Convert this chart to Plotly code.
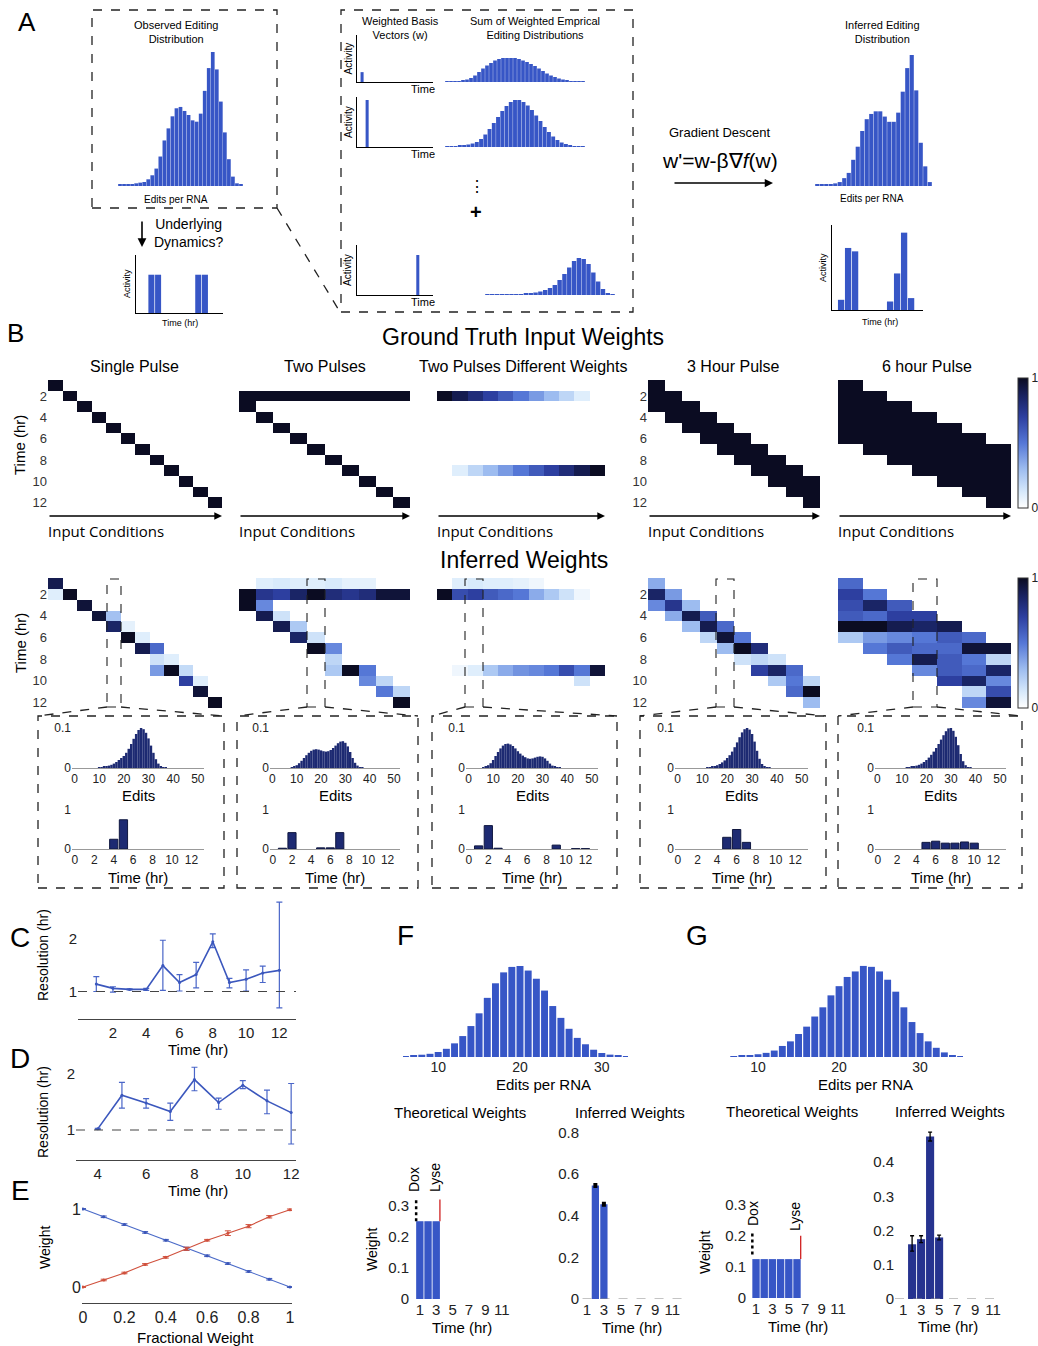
import plotly.graph_objects as go

W, H = 1038, 1346
FONT = "Liberation Sans, Arial, sans-serif"
FONT_IC = "Open Sans, Liberation Sans, sans-serif"
BLUE = "#3756c6"
NAVY = "#1d2a72"
LINE_BLUE = "#3b57bd"
RED = "#d0503c"

CS = [[0.0, "#ffffff"], [0.12, "#d8eafb"], [0.3, "#9dbcf0"], [0.5, "#5577d6"],
      [0.7, "#2d3fa0"], [0.87, "#18215e"], [1.0, "#0b0c22"]]

# ======================= DATA =======================
# Panel A
obs_dist = [0.01, 0.01, 0.01, 0.015, 0.02, 0.025, 0.03, 0.05, 0.08, 0.13, 0.22, 0.34, 0.43, 0.52,
            0.58, 0.59, 0.56, 0.53, 0.49, 0.48, 0.54, 0.71, 0.88, 1.0, 0.87, 0.63, 0.40, 0.20,
            0.07, 0.02, 0.01]
inf_dist = [0.01, 0.01, 0.01, 0.015, 0.02, 0.03, 0.06, 0.1, 0.2, 0.3, 0.42, 0.51, 0.55, 0.57,
            0.57, 0.53, 0.49, 0.49, 0.56, 0.72, 0.9, 1.0, 0.73, 0.33, 0.15, 0.03]
sum_dist_1 = [0.01, 0.01, 0.015, 0.02, 0.03, 0.05, 0.08, 0.13, 0.2, 0.27, 0.33, 0.38, 0.43, 0.46,
              0.48, 0.48, 0.48, 0.48, 0.46, 0.43, 0.4, 0.36, 0.32, 0.27, 0.22, 0.17, 0.13, 0.1,
              0.07, 0.05, 0.03, 0.02, 0.015, 0.01, 0.005]
sum_dist_2 = [0.01, 0.01, 0.02, 0.03, 0.04, 0.05, 0.07, 0.1, 0.16, 0.25, 0.36, 0.48, 0.6, 0.72,
              0.82, 0.9, 0.94, 0.94, 0.9, 0.83, 0.74, 0.63, 0.52, 0.4, 0.3, 0.21, 0.14, 0.09,
              0.06, 0.04, 0.02, 0.01, 0.005]
sum_dist_3 = [0.005, 0.005, 0.01, 0.01, 0.01, 0.015, 0.02, 0.02, 0.03, 0.04, 0.05, 0.07, 0.1,
              0.14, 0.2, 0.3, 0.42, 0.55, 0.68, 0.74, 0.72, 0.62, 0.45, 0.27, 0.12, 0.04, 0.01]
basis_times = [1, 2, 12]
basis_weights = [0.21, 0.94, 0.8]
underlying_times = [2, 3, 9, 10]
underlying_activity = [0.66, 0.66, 0.66, 0.66]
inferred_times = [1, 2, 3, 8, 9, 10, 11]
inferred_activity = [0.12, 0.73, 0.69, 0.1, 0.43, 0.91, 0.14]

# Panel B - ground truth
gt_single_starts = [1, 2, 3, 4, 5, 6, 7, 8, 9, 10, 11, 12]
gt_two_first = 2
gt_two_second_starts = [3, 4, 5, 6, 7, 8, 9, 10, 11, 12]
gt_diff_rows = {2: [1.0, 0.9, 0.8, 0.7, 0.6, 0.5, 0.4, 0.3, 0.2, 0.1, 0.0],
                9: [0.0, 0.1, 0.2, 0.3, 0.4, 0.5, 0.6, 0.7, 0.8, 0.9, 1.0]}
gt_3h_starts = [1, 2, 3, 4, 5, 6, 7, 8, 9, 10]
gt_6h_starts = [1, 2, 3, 4, 5, 6, 7]

# Panel B - inferred (column-wise {time_row: weight})
inf_single = [{1: .9, 2: .1}, {2: 1.0}, {3: .95}, {4: .95}, {4: .28, 5: .85}, {5: .08, 6: 1.0},
              {6: .1, 7: .9}, {7: .55, 8: .15, 9: .4}, {8: .1, 9: 1.0}, {9: .18, 10: .7},
              {10: .1, 11: .95}, {12: 1.0}]
inf_two = [{2: 1.0, 3: 1.0}, {1: .1, 2: .75, 3: .45, 4: .9}, {1: .12, 2: .7, 4: .15, 5: .9},
           {1: .1, 2: .85, 5: .25, 6: .85}, {1: .1, 2: 1.0, 6: .15, 7: 1.0},
           {1: .12, 2: .8, 7: .45, 8: .2, 9: .25}, {1: .08, 2: .75, 9: 1.0},
           {1: .08, 2: .8, 9: .5, 10: .45}, {2: .95, 10: .2, 11: .5}, {2: .95, 11: .2, 12: 1.0}]
inf_diff_rows = {1: [0.0, 0.1, 0.12, 0.1, 0.1, 0.08, 0.05, 0.0, 0.0, 0.0, 0.0],
                 2: [1.0, 0.65, 0.7, 0.6, 0.55, 0.5, 0.35, 0.25, 0.15, 0.05, 0.0],
                 9: [0.0, 0.05, 0.1, 0.25, 0.35, 0.42, 0.45, 0.5, 0.65, 0.5, 0.95],
                 10: [0.0, 0.0, 0.0, 0.0, 0.0, 0.0, 0.0, 0.0, 0.0, 0.15, 0.0]}
inf_3h = [{1: .35, 2: .85, 3: .45}, {2: .4, 3: .75, 4: .35}, {3: .3, 4: .9, 5: .3},
          {4: .6, 5: .9, 6: .2}, {5: .55, 6: .95, 7: .3}, {6: .5, 7: 1.0, 8: .15},
          {7: .8, 8: .2, 9: .7}, {8: .15, 9: .85, 10: .25}, {9: .55, 10: .5, 11: .55},
          {10: .2, 11: 1.0, 12: .3}]
inf_6h = [{1: .55, 2: .7, 3: .65, 4: .6, 5: 1.0, 6: .25},
          {2: .5, 3: .85, 4: .55, 5: 1.0, 6: .4, 7: .5},
          {3: .6, 4: .7, 5: .9, 6: .45, 7: .6, 8: .5},
          {4: .7, 5: .85, 6: .5, 7: .55, 8: .9, 9: .45},
          {5: .9, 6: .6, 7: .55, 8: .6, 9: .6, 10: .7},
          {6: .55, 7: .95, 8: .5, 9: .55, 10: .85, 11: .2, 12: .45},
          {7: .95, 8: .2, 9: .85, 10: .45, 11: .65, 12: .95}]

# Insets: edit distributions (start edit, values) and time weights
inset_edit_start = [10, 8, 6, 12, 12]
inset_edit_vals = [
    [.001, .002, .003, .004, .006, .008, .011, .015, .02, .025, .03, .038, .048, .06, .073, .085,
     .095, .1, .097, .088, .074, .056, .038, .022, .011, .005, .002, .001],
    [.002, .004, .007, .012, .018, .025, .032, .038, .043, .046, .047, .046, .044, .042, .041,
     .042, .045, .05, .056, .062, .066, .067, .063, .054, .04, .025, .013, .006, .002, .001],
    [.002, .004, .007, .012, .02, .03, .04, .049, .056, .06, .061, .059, .055, .049, .042, .036,
     .031, .027, .024, .023, .024, .026, .028, .029, .028, .024, .018, .011, .006, .003, .001, .0005],
    [.001, .002, .003, .005, .007, .01, .014, .019, .025, .032, .041, .052, .064, .077, .089, .097,
     .1, .096, .085, .066, .043, .023, .01, .004, .001, .0005],
    [.001, .002, .003, .004, .006, .008, .011, .015, .02, .026, .033, .041, .05, .06, .071, .082,
     .092, .099, .1, .093, .078, .057, .035, .017, .007, .002, .001],
]
inset_time_weights = [
    {4: .25, 5: .75},
    {1: .02, 2: .42, 5: .03, 6: .03, 7: .42},
    {1: .08, 2: .6, 3: .02, 9: .1, 11: .01, 12: .01},
    {5: .3, 6: .5, 7: .17},
    {5: .17, 6: .2, 7: .15, 8: .15, 9: .18, 10: .15},
]

# Panel C
c_time = [1, 2, 3, 4, 5, 6, 7, 8, 9, 10, 11, 12]
c_res = [1.14, 1.06, 1.04, 1.04, 1.49, 1.17, 1.32, 1.94, 1.17, 1.23, 1.35, 1.40]
c_hi = [1.28, 1.09, 1.05, 1.06, 1.97, 1.32, 1.55, 2.09, 1.25, 1.41, 1.48, 2.69]
c_lo = [1.00, 0.99, 1.03, 1.02, 1.02, 1.01, 1.07, 1.83, 1.07, 1.01, 1.17, 0.69]
# Panel D
d_time = [4, 5, 6, 7, 8, 9, 10, 11, 12]
d_res = [1.02, 1.62, 1.48, 1.33, 1.90, 1.49, 1.80, 1.52, 1.31]
d_hi = [1.03, 1.85, 1.56, 1.48, 2.12, 1.57, 1.88, 1.71, 1.83]
d_lo = [1.01, 1.39, 1.39, 1.17, 1.70, 1.37, 1.74, 1.29, 0.75]
# Panel E
e_frac = [0.0, 0.1, 0.2, 0.3, 0.4, 0.5, 0.6, 0.7, 0.8, 0.9, 1.0]
e_blue = [1.0, 0.9, 0.8, 0.7, 0.6, 0.49, 0.4, 0.3, 0.2, 0.1, 0.0]
e_blue_err = [0.005, 0.01, 0.01, 0.01, 0.01, 0.02, 0.01, 0.01, 0.01, 0.01, 0.005]
e_red = [0.0, 0.09, 0.18, 0.29, 0.38, 0.49, 0.6, 0.69, 0.78, 0.9, 0.99]
e_red_err = [0.005, 0.01, 0.01, 0.01, 0.01, 0.02, 0.01, 0.03, 0.02, 0.015, 0.01]
# Panel F
f_edits = list(range(6, 34))
f_dist = [.01, .02, .025, .035, .055, .09, .15, .23, .34, .48, .65, .81, .93, .99, 1.0, .95, .86,
          .73, .56, .43, .31, .21, .14, .08, .044, .026, .015, .007]
f_theo_t = [1, 2, 3]
f_theo_w = [0.25, 0.25, 0.25]
f_inf_t = [2, 3]
f_inf_w = [0.545, 0.455]
f_inf_err = [0.006, 0.006]
# Panel G
g_edits = list(range(7, 36))
g_dist = [.01, .015, .02, .03, .045, .07, .12, .17, .25, .33, .44, .54, .67, .77, .87, .93, .99,
          .98, .93, .84, .71, .54, .38, .26, .17, .10, .05, .015, .008]
g_theo_t = [1, 2, 3, 4, 5, 6]
g_theo_w = [0.125, 0.125, 0.125, 0.125, 0.125, 0.125]
g_inf_t = [2, 3, 4, 5]
g_inf_w = [0.16, 0.175, 0.475, 0.18]
g_inf_err_hi = [0.025, 0.01, 0.013, 0.007]
g_inf_err_lo = [0.02, 0.01, 0.013, 0.007]

# ======================= HELPERS =======================
fig = go.Figure()
lay = {}
ann = []
shp = []
n_ax = [0]


def axes(x0, y0, x1, y1, xkw=None, ykw=None):
    n_ax[0] += 1
    n = n_ax[0]
    s = "" if n == 1 else str(n)
    base = dict(showgrid=False, zeroline=False, showticklabels=False, ticks="", showline=False,
                fixedrange=True, automargin=False, tickfont=dict(family=FONT, color="#222"))
    xa = dict(base, domain=[x0 / W, x1 / W], anchor="y" + s)
    ya = dict(base, domain=[1 - y1 / H, 1 - y0 / H], anchor="x" + s)
    if xkw:
        xa.update(xkw)
    if ykw:
        ya.update(ykw)
    lay["xaxis" + s] = xa
    lay["yaxis" + s] = ya
    return "x" + s, "y" + s


def T(x, y, text, size=12, xa="center", ya="middle", angle=0, color="black", family=FONT):
    ann.append(dict(x=x / W, y=1 - y / H, xref="paper", yref="paper", text=text, showarrow=False,
                    font=dict(size=size, color=color, family=family), xanchor=xa, yanchor=ya,
                    textangle=angle))


def ARROW(x0, y0, x1, y1, width=1.5, head=2, size=1.0):
    ann.append(dict(x=x1 / W, y=1 - y1 / H, xref="paper", yref="paper", ax=x0 - x1, ay=y0 - y1,
                    axref="pixel", ayref="pixel", text="", showarrow=True, arrowhead=head,
                    arrowwidth=width, arrowsize=size, arrowcolor="black"))


def RECT(x0, y0, x1, y1, dash="dash", width=1.3, color="#222"):
    shp.append(dict(type="rect", xref="paper", yref="paper", x0=x0 / W, x1=x1 / W,
                    y0=1 - y1 / H, y1=1 - y0 / H, line=dict(color=color, width=width, dash=dash),
                    fillcolor="rgba(0,0,0,0)", layer="above"))


def LINE(x0, y0, x1, y1, dash="dash", width=1.3, color="#222"):
    shp.append(dict(type="line", xref="paper", yref="paper", x0=x0 / W, x1=x1 / W,
                    y0=1 - y0 / H, y1=1 - y1 / H, line=dict(color=color, width=width, dash=dash)))


def DLINE(xa, ya, x0, y0, x1, y1, dash="solid", width=1.3, color="#222"):
    shp.append(dict(type="line", xref=xa, yref=ya, x0=x0, x1=x1, y0=y0, y1=y1,
                    line=dict(color=color, width=width, dash=dash)))


def BAR(xa, ya, x, y, color, width=0.9, err=None, errminus=None, errcolor="black", ethick=1.2):
    kw = {}
    if err is not None:
        kw["error_y"] = dict(type="data", symmetric=False, array=err,
                             arrayminus=errminus if errminus is not None else err,
                             color=errcolor, thickness=ethick, width=2)
    fig.add_trace(go.Bar(x=x, y=y, width=width, marker=dict(color=color, line=dict(width=0)),
                         xaxis=xa, yaxis=ya, showlegend=False, hoverinfo="skip", **kw))


def pulse_matrix(starts, dur):
    z = [[0.0] * len(starts) for _ in range(12)]
    for c, s in enumerate(starts):
        for r in range(s, s + dur):
            z[r - 1][c] = 1.0
    return z


def sparse_matrix(cols):
    z = [[0.0] * len(cols) for _ in range(12)]
    for c, d in enumerate(cols):
        for r, v in d.items():
            z[r - 1][c] = v
    return z


def row_matrix(rows, ncol):
    z = [[0.0] * ncol for _ in range(12)]
    for r, vals in rows.items():
        for c, v in enumerate(vals):
            z[r - 1][c] = v
    return z


def HEAT(x0, y0, x1, y1, z, cax, ticks):
    ncol = len(z[0])
    ykw = dict(range=[12.5, 0.5])
    if ticks:
        ykw.update(showticklabels=True, tickvals=[2, 4, 6, 8, 10, 12],
                   tickfont=dict(size=13, color="#333", family=FONT))
    xa, ya = axes(x0, y0, x1, y1, xkw=dict(range=[0.5, ncol + 0.5]), ykw=ykw)
    fig.add_trace(go.Heatmap(z=z, x=list(range(1, ncol + 1)), y=list(range(1, 13)),
                             coloraxis=cax, xaxis=xa, yaxis=ya, hoverinfo="skip"))
    return xa, ya


# ======================= PANEL A =======================
T(27, 22, "A", size=26)
RECT(92, 10, 277, 208)
T(176, 32, "Observed Editing<br>Distribution", size=11)
xa, ya = axes(118, 52, 243, 186, xkw=dict(range=[-0.5, len(obs_dist) - 0.5]), ykw=dict(range=[0, 1]))
BAR(xa, ya, list(range(len(obs_dist))), obs_dist, BLUE, width=0.92)
T(176, 199, "Edits per RNA", size=10)
ARROW(142, 220, 142, 247, width=1.6, head=2, size=1.1)
T(152, 233, "Underlying<br>Dynamics?", size=14, xa="left")
line_ax = dict(showline=True, linecolor="black", linewidth=1)
xa, ya = axes(136, 255, 223, 313, xkw=dict(range=[-0.3, 12.7], **line_ax), ykw=dict(range=[0, 1], **line_ax))
BAR(xa, ya, underlying_times, underlying_activity, BLUE, width=0.9)
T(127, 284, "Activity", size=9, angle=-90)
T(180, 323, "Time (hr)", size=9)
LINE(277, 208, 340, 312)

RECT(341, 10, 633, 312)
T(400, 28, "Weighted Basis<br>Vectors (w)", size=11)
T(535, 28, "Sum of Weighted Emprical<br>Editing Distributions", size=11)
rows_a = [(35, 82), (97, 147), (245, 295)]
dists = [sum_dist_1, sum_dist_2, sum_dist_3]
dist_x = [(445, 585), (445, 585), (485, 615)]
for i in range(3):
    top, base = rows_a[i]
    xa, ya = axes(357, top, 433, base, xkw=dict(range=[0, 15], **line_ax), ykw=dict(range=[0, 1], **line_ax))
    BAR(xa, ya, [basis_times[i]], [basis_weights[i]], BLUE, width=0.6)
    T(348, (top + base) / 2, "Activity", size=10, angle=-90)
    T(423, base + 7, "Time", size=11)
    d = dists[i]
    xa, ya = axes(dist_x[i][0], base - 50, dist_x[i][1], base,
                  xkw=dict(range=[-0.5, len(d) - 0.5]), ykw=dict(range=[0, 1]))
    BAR(xa, ya, list(range(len(d))), d, BLUE, width=0.92)
T(477, 187, "⋮", size=16)
T(476, 212, "<b>+</b>", size=20)

T(720, 133, "Gradient Descent", size=13)
T(720, 160, "w'=w-β∇<i>f</i>(w)", size=21)
ARROW(673, 183, 773, 183, width=1.5, head=2, size=1.1)
T(882, 32, "Inferred Editing<br>Distribution", size=11)
xa, ya = axes(815, 55, 932, 186, xkw=dict(range=[-0.5, len(inf_dist) - 0.5]), ykw=dict(range=[0, 1]))
BAR(xa, ya, list(range(len(inf_dist))), inf_dist, BLUE, width=0.92)
T(872, 198, "Edits per RNA", size=10)
xa, ya = axes(832, 225, 923, 310, xkw=dict(range=[-0.3, 12.7], **line_ax), ykw=dict(range=[0, 1], **line_ax))
BAR(xa, ya, inferred_times, inferred_activity, BLUE, width=0.9)
T(823, 268, "Activity", size=9, angle=-90)
T(880, 322, "Time (hr)", size=9)

# ======================= PANEL B =======================
T(15, 333, "B", size=26)
T(523, 337, "Ground Truth Input Weights", size=23)
subtitles = ["Single Pulse", "Two Pulses", "Two Pulses Different Weights", "3 Hour Pulse", "6 hour Pulse"]
sub_x = [134, 325, 523, 733, 927]
for t, x in zip(subtitles, sub_x):
    T(x, 367, t, size=16)

hm_x = [(48, 222), (239, 410), (437, 605), (648, 820), (838, 1011)]
z_two = pulse_matrix(gt_two_second_starts, 1)
for c in range(len(gt_two_second_starts)):
    z_two[gt_two_first - 1][c] = 1.0
gt_mats = [pulse_matrix(gt_single_starts, 1), z_two, row_matrix(gt_diff_rows, 11),
           pulse_matrix(gt_3h_starts, 3), pulse_matrix(gt_6h_starts, 6)]
for i in range(5):
    HEAT(hm_x[i][0], 380, hm_x[i][1], 508, gt_mats[i], "coloraxis", i in (0, 3))
    ARROW(hm_x[i][0], 516, hm_x[i][1], 516, width=1.4, head=2, size=1.1)
    T(hm_x[i][0] - 2, 531, "Input Conditions", size=15, xa="left", family=FONT_IC)
T(20, 445, "Time (hr)", size=15, angle=-90)

T(524, 560, "Inferred Weights", size=23)
inf_mats = [sparse_matrix(inf_single), sparse_matrix(inf_two), row_matrix(inf_diff_rows, 11),
            sparse_matrix(inf_3h), sparse_matrix(inf_6h)]
for i in range(5):
    HEAT(hm_x[i][0], 578, hm_x[i][1], 708, inf_mats[i], "coloraxis2", i in (0, 3))
T(20, 643, "Time (hr)", size=15, angle=-90)

sel = [(107, 121), (307, 325), (465, 483), (716, 734), (913, 937)]
boxes = [(38, 224), (237, 418), (432, 617), (640, 826), (838, 1022)]
inset_ax = [(72, 204), (270, 400), (466, 598), (675, 808), (875, 1006)]
for i in range(5):
    RECT(sel[i][0], 579, sel[i][1], 707, dash="dash", width=1.1)
    RECT(boxes[i][0], 716, boxes[i][1], 888, dash="dash", width=1.3)
    LINE(sel[i][0], 707, boxes[i][0], 716, width=1.3)
    LINE(sel[i][1], 707, boxes[i][1], 716, width=1.3)
    a0, a1 = inset_ax[i]
    xa, ya = axes(a0, 728, a1, 768,
                  xkw=dict(range=[-1, 52.5], showline=True, linecolor="#999", linewidth=1,
                           showticklabels=True, tickvals=[0, 10, 20, 30, 40, 50], tickfont=dict(size=12, color="#222", family=FONT)),
                  ykw=dict(range=[0, 0.1], showticklabels=True, tickvals=[0, 0.1], ticktext=["0", "0.1"],
                           tickfont=dict(size=12, color="#222", family=FONT)))
    vals = inset_edit_vals[i]
    BAR(xa, ya, list(range(inset_edit_start[i], inset_edit_start[i] + len(vals))), vals, NAVY, width=1.0)
    T((a0 + a1) / 2, 795, "Edits", size=15)
    tw = inset_time_weights[i]
    xa, ya = axes(a0, 810, a1, 849,
                  xkw=dict(range=[-0.3, 13.3], showline=True, linecolor="#999", linewidth=1,
                           showticklabels=True, tickvals=[0, 2, 4, 6, 8, 10, 12], tickfont=dict(size=12, color="#222", family=FONT)),
                  ykw=dict(range=[0, 1], showticklabels=True, tickvals=[0, 1],
                           tickfont=dict(size=12, color="#222", family=FONT)))
    fig.add_trace(go.Bar(x=list(tw.keys()), y=list(tw.values()), width=0.85,
                         marker=dict(color=NAVY, line=dict(color="#101840", width=1)),
                         xaxis=xa, yaxis=ya, showlegend=False, hoverinfo="skip"))
    T((a0 + a1) / 2, 877, "Time (hr)", size=15)

cbar = dict(thickness=10, xanchor="left", yanchor="bottom", lenmode="fraction", xpad=0, ypad=0,
            tickvals=[0, 1], ticktext=["0", "1"], ticks="", outlinewidth=1, outlinecolor="#333",
            tickfont=dict(size=12, family=FONT, color="#222"))
lay["coloraxis"] = dict(colorscale=CS, cmin=0, cmax=1,
                        colorbar=dict(cbar, x=1018 / W, y=1 - 508 / H, len=130 / H))
lay["coloraxis2"] = dict(colorscale=CS, cmin=0, cmax=1,
                         colorbar=dict(cbar, x=1018 / W, y=1 - 708 / H, len=130 / H))

# ======================= PANELS C, D, E =======================
tf17 = dict(size=15, color="#222", family=FONT)
bline = dict(showline=True, linecolor="#444", linewidth=1)

T(20, 937, "C", size=28)
xa, ya = axes(78, 899, 296, 1019,
              xkw=dict(range=[-0.1, 13], showticklabels=True, tickvals=[2, 4, 6, 8, 10, 12], tickfont=tf17, **bline),
              ykw=dict(range=[0.48, 2.75], showticklabels=True, tickvals=[1, 2], tickfont=tf17))
DLINE(xa, ya, -0.1, 1, 13, 1, dash="dash", width=1.2, color="#444")
fig.add_trace(go.Scatter(x=c_time, y=c_res, mode="lines+markers", line=dict(color=LINE_BLUE, width=1.6),
                         marker=dict(size=3, color=LINE_BLUE),
                         error_y=dict(type="data", symmetric=False,
                                      array=[h - r for h, r in zip(c_hi, c_res)],
                                      arrayminus=[r - l for r, l in zip(c_res, c_lo)],
                                      color="#4a66c8", thickness=1.2, width=3),
                         xaxis=xa, yaxis=ya, showlegend=False, hoverinfo="skip"))
T(43, 955, "Resolution (hr)", size=14, angle=-90)
T(198, 1049, "Time (hr)", size=15)

T(20, 1058, "D", size=28)
xa, ya = axes(76, 1065, 296, 1160,
              xkw=dict(range=[3.1, 12.2], showticklabels=True, tickvals=[4, 6, 8, 10, 12], tickfont=tf17, **bline),
              ykw=dict(range=[0.464, 2.16], showticklabels=True, tickvals=[1, 2], tickfont=tf17))
DLINE(xa, ya, 3.1, 1, 12.2, 1, dash="dash", width=1.2, color="#444")
fig.add_trace(go.Scatter(x=d_time, y=d_res, mode="lines+markers", line=dict(color=LINE_BLUE, width=1.6),
                         marker=dict(size=3, color=LINE_BLUE),
                         error_y=dict(type="data", symmetric=False,
                                      array=[h - r for h, r in zip(d_hi, d_res)],
                                      arrayminus=[r - l for r, l in zip(d_res, d_lo)],
                                      color="#4a66c8", thickness=1.2, width=3),
                         xaxis=xa, yaxis=ya, showlegend=False, hoverinfo="skip"))
T(43, 1112, "Resolution (hr)", size=14, angle=-90)
T(198, 1190, "Time (hr)", size=15)

T(20, 1190, "E", size=28)
xa, ya = axes(82, 1198, 292, 1303,
              xkw=dict(range=[-0.005, 1.01], showticklabels=True, tickvals=[0, 0.2, 0.4, 0.6, 0.8, 1],
                       ticktext=["0", "0.2", "0.4", "0.6", "0.8", "1"], tickfont=dict(size=16, color="#222", family=FONT), **bline),
              ykw=dict(range=[-0.205, 1.141], showticklabels=True, tickvals=[0, 1], tickfont=dict(size=16, color="#222", family=FONT)))
fig.add_trace(go.Scatter(x=e_frac, y=e_blue, mode="lines+markers", line=dict(color="#4a6ac8", width=1.1),
                         marker=dict(size=3, color="#3a55b8"),
                         error_y=dict(type="data", array=e_blue_err, color="#3a55b8", thickness=1, width=3),
                         xaxis=xa, yaxis=ya, showlegend=False, hoverinfo="skip"))
fig.add_trace(go.Scatter(x=e_frac, y=e_red, mode="lines+markers", line=dict(color=RED, width=1.1),
                         marker=dict(size=3, color=RED),
                         error_y=dict(type="data", array=e_red_err, color=RED, thickness=1, width=3),
                         xaxis=xa, yaxis=ya, showlegend=False, hoverinfo="skip"))
T(45, 1248, "Weight", size=14, angle=-90)
T(195, 1337, "Fractional Weight", size=15)

# ======================= PANELS F, G =======================
tf15 = dict(size=15, color="#222", family=FONT)
tf14 = dict(size=14, color="#222", family=FONT)

T(405, 935, "F", size=28)
xa, ya = axes(403, 966, 628, 1057,
              xkw=dict(range=[5.7, 33.2], showticklabels=True, tickvals=[10, 20, 30], tickfont=tf14),
              ykw=dict(range=[0, 1]))
BAR(xa, ya, f_edits, f_dist, BLUE, width=0.85)
T(543, 1084, "Edits per RNA", size=15)
T(460, 1112, "Theoretical Weights", size=15)
T(630, 1112, "Inferred Weights", size=15)

xa, ya = axes(410, 1159, 510, 1299,
              xkw=dict(range=[-0.2, 12], showticklabels=True, tickvals=[1, 3, 5, 7, 9, 11], tickfont=tf15),
              ykw=dict(range=[0, 0.45], showticklabels=True, tickvals=[0, 0.1, 0.2, 0.3],
                       ticktext=["0", "0.1", "0.2", "0.3"], tickfont=tf15))
BAR(xa, ya, f_theo_t, f_theo_w, BLUE, width=0.9)
DLINE(xa, ya, 0.55, 0.25, 0.55, 0.32, dash="dot", width=2.5, color="black")
DLINE(xa, ya, 3.45, 0.25, 3.45, 0.32, width=1.3, color="#d02020")
T(414, 1180, "Dox", size=14, angle=-90)
T(435, 1178, "Lyse", size=14, angle=-90)
T(372, 1250, "Weight", size=14, angle=-90)
T(462, 1327, "Time (hr)", size=15)

xa, ya = axes(580, 1122, 685, 1299,
              xkw=dict(range=[0.2, 12.5], showticklabels=True, tickvals=[1, 3, 5, 7, 9, 11], tickfont=tf15),
              ykw=dict(range=[0, 0.85], showticklabels=True, tickvals=[0, 0.2, 0.4, 0.6, 0.8],
                       ticktext=["0", "0.2", "0.4", "0.6", "0.8"], tickfont=tf15))
DLINE(xa, ya, 0.5, 0, 12.3, 0, dash="dash", width=1, color="#888")
BAR(xa, ya, f_inf_t, f_inf_w, BLUE, width=0.85, err=f_inf_err, ethick=2.5)
T(632, 1327, "Time (hr)", size=15)

T(697, 935, "G", size=28)
xa, ya = axes(730, 965, 963, 1057,
              xkw=dict(range=[6.54, 35.3], showticklabels=True, tickvals=[10, 20, 30], tickfont=tf14),
              ykw=dict(range=[0, 1]))
BAR(xa, ya, g_edits, g_dist, BLUE, width=0.85)
T(865, 1084, "Edits per RNA", size=15)
T(792, 1111, "Theoretical Weights", size=15)
T(950, 1111, "Inferred Weights", size=15)

xa, ya = axes(747, 1158, 847, 1298,
              xkw=dict(range=[-0.1, 12.1], showticklabels=True, tickvals=[1, 3, 5, 7, 9, 11], tickfont=tf15),
              ykw=dict(range=[0, 0.45], showticklabels=True, tickvals=[0, 0.1, 0.2, 0.3],
                       ticktext=["0", "0.1", "0.2", "0.3"], tickfont=tf15))
BAR(xa, ya, g_theo_t, g_theo_w, BLUE, width=0.9)
DLINE(xa, ya, 0.55, 0.14, 0.55, 0.21, dash="dot", width=2.5, color="black")
DLINE(xa, ya, 6.45, 0.125, 6.45, 0.2, width=1.3, color="#d02020")
T(753, 1214, "Dox", size=14, angle=-90)
T(795, 1217, "Lyse", size=14, angle=-90)
T(705, 1253, "Weight", size=14, angle=-90)
T(798, 1326, "Time (hr)", size=15)

xa, ya = axes(895, 1128, 1003, 1299,
              xkw=dict(range=[0.1, 12.1], showticklabels=True, tickvals=[1, 3, 5, 7, 9, 11], tickfont=tf15),
              ykw=dict(range=[0, 0.5], showticklabels=True, tickvals=[0, 0.1, 0.2, 0.3, 0.4],
                       ticktext=["0", "0.1", "0.2", "0.3", "0.4"], tickfont=tf15))
DLINE(xa, ya, 0.1, 0, 12.1, 0, dash="dash", width=1, color="#888")
BAR(xa, ya, g_inf_t, g_inf_w, "#26338f", width=0.9, err=g_inf_err_hi, errminus=g_inf_err_lo, ethick=1.3)
T(948, 1326, "Time (hr)", size=15)

# ======================= LAYOUT =======================
fig.update_layout(
    width=W, height=H, margin=dict(l=0, r=0, t=0, b=0, pad=0, autoexpand=False),
    paper_bgcolor="white", plot_bgcolor="white",
    barmode="overlay", showlegend=False,
    font=dict(family=FONT, color="black"),
    annotations=ann, shapes=shp, **lay,
)
fig.write_html("out.html")
